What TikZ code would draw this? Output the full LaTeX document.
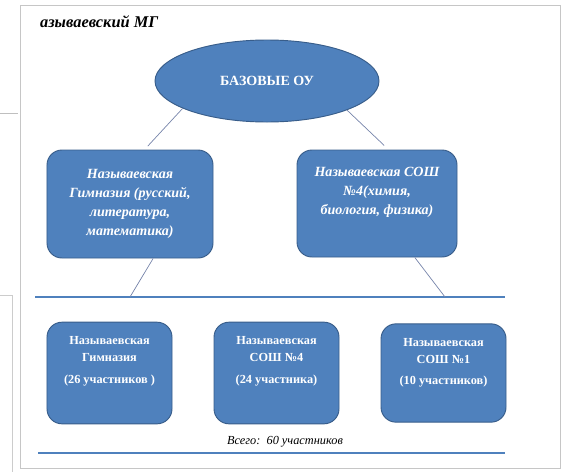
\documentclass[tikz,border=0pt]{standalone}
\usepackage{fontspec}
\setmainfont{Liberation Serif}
\usepackage{tikz}
\usetikzlibrary{shapes.geometric,positioning}
\definecolor{oublue}{RGB}{79,129,189}
\definecolor{ouedge}{RGB}{56,93,138}
\definecolor{oulink}{RGB}{118,132,170}

\begin{document}
\begin{tikzpicture}[x=0.03cm, y=-0.03cm, node distance=5.01cm,
    oubox/.style={draw=ouedge, line width=0.8pt, fill=oublue, rounded corners=0.45cm, inner sep=0pt},
    upbox/.style={oubox, text=white, align=center, font=\fontsize{12}{16}\selectfont\bfseries\itshape},
    lowbox/.style={oubox, minimum width=3.75cm, minimum height=3.05cm},
    lowtext/.style={text=white, align=center, font=\fontsize{10.5}{14.5}\selectfont\bfseries},
    link/.style={draw=oulink, line width=0.6pt},
    rule/.style={draw=oublue, line width=1.1pt}]
        \useasboundingbox (0,0) rectangle (566,472);
        % page edges of the screenshot
        \draw[gray!45, line width=0.8pt] (20,5) rectangle (560,468);
        \draw[gray!50] (0,113) -- (18,113);
        \draw[gray!40] (0,295) -- (12,295) -- (12,472);
        \node[anchor=west, font=\fontsize{14}{16}\selectfont\bfseries\itshape] (title) at (36,22) {азываевский МГ};

        \node[ellipse, draw=ouedge, line width=0.8pt, fill=oublue, inner sep=0pt, minimum width=6.72cm, minimum height=2.46cm,
              text=white, font=\fontsize{12}{14}\selectfont\bfseries] (base) at (267,81) {БАЗОВЫЕ ОУ};

        \node[upbox, minimum width=4.98cm, minimum height=3.24cm] (gimn) at (130,204)
            {Называевская\\Гимназия (русский,\\литература,\\математика)};
        \node[upbox, minimum width=4.8cm, minimum height=3.21cm] (sosh) at (377,203.5)
            {Называевская СОШ\\№4(химия,\\биология, физика)\\[0.2cm]};

        \node[lowbox] (uch1) at (109.5,373) {};
        \node[lowbox] (uch2) [right of=uch1] {};
        \node[lowbox, minimum height=2.95cm] (uch3) [right of=uch2] {};
        \node[lowtext, below=0.32cm of uch1.north, anchor=north] (t1) {Называевская\\Гимназия\\[4pt](26 участников )};
        \node[lowtext, below=0.32cm of uch2.north, anchor=north] (t2) {Называевская\\СОШ №4\\[4pt](24 участника)};
        \node[lowtext, below=0.32cm of uch3.north, anchor=north] (t3) {Называевская\\СОШ №1\\[4pt](10 участников)};

        \node[font=\fontsize{10.5}{12}\selectfont\itshape] (total) at (285,442) {Всего: \,60 участников};

        \coordinate (hl) at (35,297);
        \coordinate (hr) at (505,297);
        \coordinate (h1) at (130,297);
        \coordinate (h2) at (445,297);
        \coordinate (bl) at (38,453);
        \coordinate (br) at (505,453);

        \draw[rule] (hl) -- (hr);
        \draw[rule] (bl) -- (br);
        \draw[link, shorten >=4pt] (base.198) -- (gimn.75);
        \draw[link, shorten >=5pt] (base.340) -- (sosh.78);
        \draw[link] (gimn.293) -- (h1);
        \draw[link] (sosh.305) -- (h2);
\end{tikzpicture}
\end{document}
